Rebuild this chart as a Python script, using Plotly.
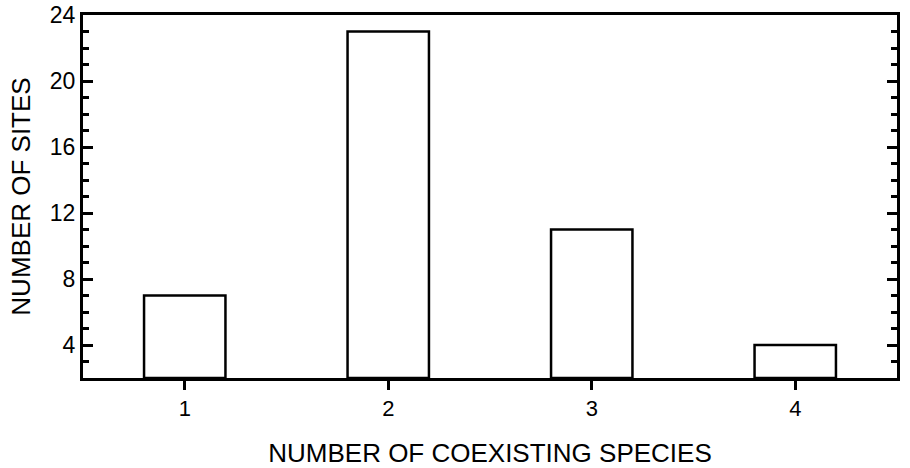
import plotly.graph_objects as go

species = [1, 2, 3, 4]
sites = [7, 23, 11, 4]
x_ticks = ["1", "2", "3", "4"]
y_ticks = [4, 8, 12, 16, 20, 24]
y_floor = 2

font = "Liberation Sans, Arial, Helvetica, sans-serif"

fig = go.Figure(go.Bar(
    x=species, y=[v - y_floor for v in sites], base=y_floor, width=0.4,
    marker=dict(color="white", line=dict(color="black", width=2.5)),
))

fig.update_layout(
    width=910, height=468,
    margin=dict(l=83, r=13, t=15, b=90),
    plot_bgcolor="white", paper_bgcolor="white",
    showlegend=False,
    font=dict(family=font, color="black", size=20),
)
fig.update_xaxes(
    range=[0.5, 4.5], automargin=False,
    tickvals=species, ticktext=x_ticks,
    ticks="outside", ticklen=9, tickwidth=3, tickcolor="black",
    showline=True, linewidth=3, linecolor="black", mirror=True,
    showgrid=False, zeroline=False,
    tickfont=dict(family=font, size=22, color="black"),
    title=dict(text="NUMBER OF COEXISTING SPECIES", font=dict(family=font, size=26), standoff=28),
)
fig.update_yaxes(
    range=[2, 24], automargin="left", ticklabeloverflow="allow",
    tickvals=y_ticks,
    ticks="inside", ticklen=10, tickwidth=3, tickcolor="black",
    minor=dict(dtick=1, tick0=0, ticks="inside", ticklen=6, tickwidth=3, tickcolor="black"),
    showline=True, linewidth=3, linecolor="black", mirror="ticks",
    showgrid=False, zeroline=False,
    tickfont=dict(family=font, size=23, color="black"),
    title=dict(text="NUMBER OF SITES", font=dict(family=font, size=26), standoff=12),
)
fig.write_html("out.html", config={"displayModeBar": False},
               post_script="document.body.style.margin='0';")
